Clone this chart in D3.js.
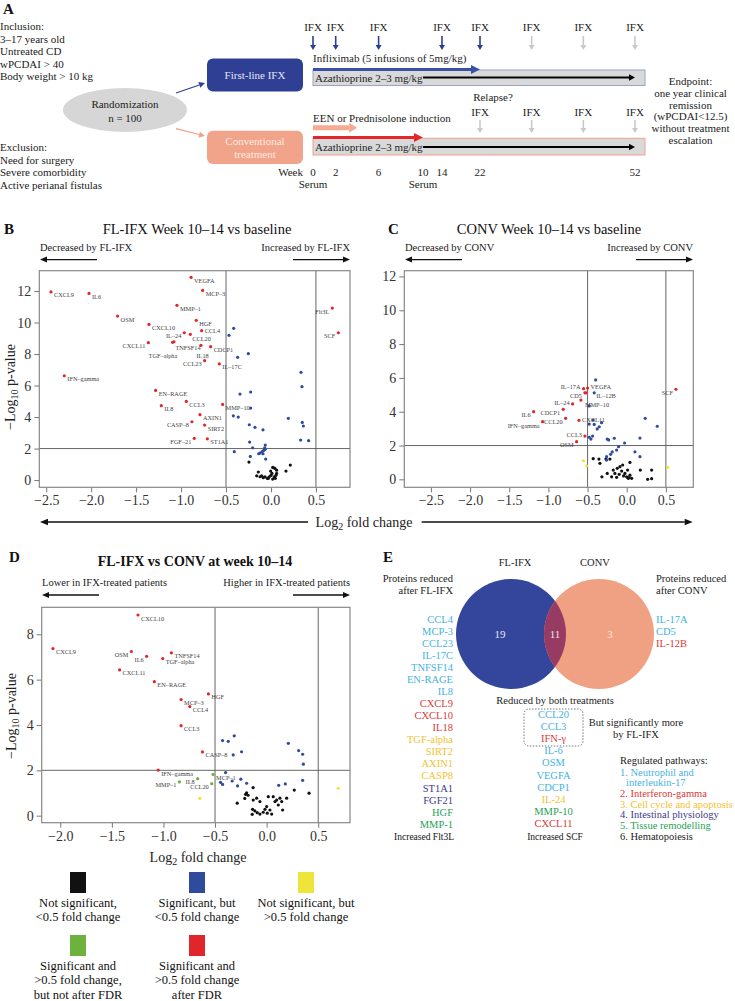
<!DOCTYPE html>
<html><head><meta charset="utf-8">
<script src="https://cdnjs.cloudflare.com/ajax/libs/d3/7.8.5/d3.min.js"></script>
<style>body{margin:0;background:#fff}svg{display:block}text{font-family:"Liberation Serif","DejaVu Serif",serif}</style>
</head><body><svg id="c" width="735" height="1001"></svg>
<script>
// ---------------- DATA ----------------
// Panel A (study design)
const weeks = [0, 2, 6, 10, 14, 22, 52];
const ifxWeeksFL = [0, 2, 6, 14, 22];
const ifxMaintFL = [32, 42, 52];
const ifxRelapseConv = [22, 32, 42, 52];
const serumWeeks = [0, 10];
const inclusion = ["Inclusion:", "3–17 years old", "Untreated CD", "wPCDAI > 40", "Body weight > 10 kg"];
const exclusion = ["Exclusion:", "Need for surgery", "Severe comorbidity", "Active perianal fistulas"];
const endpoint = ["Endpoint:", "one year clinical", "remission", "(wPCDAI<12.5)", "without treatment", "escalation"];

// Panel B: FL-IFX week 10-14 vs baseline  [name, log2FC, -log10 p]
const bRed = [
 ["VEGFA",-0.889,12.87],["MCP–3",-0.760,12.04],["CXCL9",-2.447,11.94],["IL6",-2.024,11.85],
 ["MMP–1",-1.046,11.09],["Flt3L",0.682,10.92],["OSM",-1.706,10.41],["HGF",-0.831,10.14],
 ["CXCL10",-1.357,9.88],["CCL4",-0.771,9.48],["IL–24",-0.964,9.35],["SCF",0.749,9.35],
 ["CCL20",-0.897,9.25],["CXCL11",-1.364,8.72],["TGF–alpha",-1.094,8.74],["TNFSF14",-1.079,8.78],
 ["IL18",-0.779,8.55],["CDCP1",-0.671,8.47],["CCL23",-0.738,7.58],["IL–17C",-0.575,7.37],
 ["IFN–gamma",-2.299,6.62],["EN–RAGE",-1.283,5.69],["CCL3",-0.942,4.99],["MMP–10",-0.538,4.80],
 ["IL8",-1.220,4.72],["AXIN1",-0.790,4.15],["CASP–8",-0.879,3.70],["SIRT2",-0.738,3.49],
 ["FGF–21",-0.853,2.65],["ST1A1",-0.708,2.62]
];
const bBlue = [[-0.415,9.63],[-0.467,9.19],[-0.252,8.02],[-0.371,7.79],[0.334,6.84],[0.345,5.93],
 [-0.226,5.59],[-0.345,5.46],[-0.226,4.57],[-0.419,4.08],[-0.364,4.00],[0.193,3.92],[0.348,3.66],
 [0.360,3.43],[-0.241,3.51],[-0.178,3.35],[-0.089,3.19],[0.330,2.54],[0.419,2.50],[-0.237,2.41],
 [-0.204,2.05],[-0.408,1.80],[-0.230,1.50],[-0.059,1.33],[-0.063,2.22],[-0.070,2.05],[-0.081,1.88],
 [-0.100,1.80],[-0.122,1.71],[-0.137,1.67],[-0.089,1.67],[-0.065,1.95]];
const bBlack = [[-0.245,1.14],[-0.141,0.51],[-0.159,0.27],[-0.104,0.27],[-0.067,0.21],[-0.041,0.11],
 [-0.004,0.57],[0.019,0.80],[0.044,0.74],[0.063,0.63],[0.063,0.42],[0.037,0.21],[0.019,0.06],
 [-0.019,0.21],[0.167,0.57],[0.215,0.95],[-0.086,0.15],[-0.122,0.21],[0.048,0.11],[0.011,0.42],
 [0.030,0.78],[0.000,0.30],[-0.030,0.10],[0.055,0.30]];

// Panel C: CONV week 10-14 vs baseline
const cRed = [
 ["IL–17A",-0.551,5.36],["VEGFA",-0.500,5.40],["CD5",-0.534,5.12],["IL–12B",-0.517,5.12],
 ["MMP–10",-0.585,4.69],["IL–24",-0.691,4.46],["CDCP1",-0.811,4.14],["IL6",-1.189,4.00],
 ["CCL20",-0.780,3.61],["CXCL11",-0.610,3.49],["IFN–gamma",-1.074,3.41],["CCL3",-0.534,2.56],
 ["OSM",-0.640,2.23],["SCF",0.628,5.33]
];
const cBlue = [[-0.397,5.88],[-0.415,5.12],[-0.479,4.34],[-0.428,3.51],[-0.479,3.27],[-0.415,3.25],
 [-0.321,3.35],[-0.351,3.11],[-0.377,2.98],[0.236,3.61],[0.390,3.14],[-0.479,2.49],[-0.436,2.56],
 [-0.457,2.38],[-0.249,2.38],[-0.231,2.33],[-0.159,2.43],[-0.027,2.15],[0.169,2.44],[-0.104,1.93],
 [-0.129,1.73],[-0.185,1.62],[-0.206,1.48],[-0.257,1.34],[0.105,1.63],[0.169,1.34],[-0.257,1.14]];
const cYellow = [[-0.555,1.10],[-0.512,0.80],[0.522,0.71]];
const cBlack = [[-0.428,1.22],[-0.355,1.20],[-0.342,0.95],[-0.266,1.20],[-0.215,1.20],[-0.317,0.15],
 [0.041,1.00],[0.173,0.55],[0.318,0.55],[0.318,0.04],[0.267,0.00],[-0.172,0.55],[-0.151,0.35],
 [-0.193,0.15],[-0.121,0.65],[-0.087,0.75],[-0.052,0.85],[-0.065,0.49],[-0.096,0.30],[-0.129,0.12],
 [-0.023,0.35],[-0.001,0.15],[0.019,0.06],[0.041,0.25],[0.063,0.06],[0.011,0.55],[-0.249,0.35],
 [0.030,0.10],[-0.040,0.20]];

// Panel D: FL-IFX vs CONV at week 10-14
const dRed = [
 ["CXCL10",-1.247,8.85],["CXCL9",-2.071,7.37],["OSM",-1.311,7.24],["IL6",-1.163,7.03],
 ["TNFSF14",-0.923,7.18],["TGF–alpha",-1.007,6.93],["CXCL11",-1.425,6.43],["EN–RAGE",-1.088,5.91],
 ["HGF",-0.564,5.37],["MCP–3",-0.829,5.12],["CCL4",-0.745,4.81],["CCL3",-0.829,3.97],
 ["CASP–8",-0.622,2.81],["IFN–gamma",-1.051,2.01]
];
const dGreen = [["MCP–1",-0.519,1.82],["IL8",-0.668,1.63],["MMP–1",-0.845,1.49],["CCL20",-0.532,1.41]];
const dYellow = [[-0.648,0.76],[0.694,1.21]];
const dBlue = [[-0.427,3.31],[-0.372,3.28],[-0.314,3.52],[-0.324,2.68],[-0.243,2.82],[0.210,3.19],
 [0.310,2.87],[0.349,2.71],[0.356,2.27],[-0.398,1.90],[-0.447,1.47],[-0.427,1.38],[-0.334,1.53],
 [-0.250,1.61],[-0.282,1.31],[-0.194,1.43],[0.117,1.34],[0.181,1.40],[0.349,1.56]];
const dBlack = [[-0.194,1.01],[-0.204,0.94],[-0.180,0.90],[-0.285,0.55],[-0.130,0.69],[-0.097,0.77],
 [-0.065,0.62],[-0.136,0.28],[-0.114,0.21],[-0.140,0.06],[-0.091,0.13],[-0.065,0.07],[-0.033,0.15],
 [-0.016,0.28],[0.000,0.40],[0.006,0.11],[0.032,0.25],[0.049,0.07],[0.081,0.62],[0.097,0.69],
 [0.129,0.77],[0.146,0.62],[0.113,0.47],[0.155,0.25],[0.194,0.77],[0.268,1.13],[0.411,0.99],
 [0.016,0.84],[0.064,0.84],[-0.131,1.24],[-0.212,0.76]];

// Legend
const legendColors = ["#111111","#2f4b9c","#efe53a","#6cb23d","#e0262b"];
const legendLabels = [["Not significant,","<0.5 fold change"],["Significant, but","<0.5 fold change"],
 ["Not significant, but",">0.5 fold change"],["Significant and",">0.5 fold change,","but not after FDR"],
 ["Significant and",">0.5 fold change","after FDR"]];

// Panel E (pathway codes 1..6)
const vennCounts = [19, 11, 3];
const eIfxOnly = [["CCL4",1],["MCP-3",1],["CCL23",1],["IL-17C",1],["TNFSF14",1],["EN-RAGE",1],["IL8",1],
 ["CXCL9",2],["CXCL10",2],["IL18",2],["TGF-alpha",3],["SIRT2",3],["AXIN1",3],["CASP8",3],
 ["ST1A1",4],["FGF21",4],["HGF",5],["MMP-1",5]];
const eBoth = [["CCL20",1],["CCL3",1],["IFN-γ",2],["IL-6",1],["OSM",1],["VEGFA",1],["CDCP1",1],
 ["IL-24",3],["MMP-10",5],["CXCL11",2]];
const eConvOnly = [["IL-17A",1],["CD5",1],["IL-12B",2]];
const pathways = [["1. Neutrophil and",1,0],["interleukin-17",1,1],["2. Interferon-gamma",2,0],
 ["3. Cell cycle and apoptosis",3,0],["4. Intestinal physiology",4,0],["5. Tissue remodelling",5,0],
 ["6. Hematopoiesis",6,0]];

// ---------------- STYLE / LAYOUT ----------------
const COL = {red:"#e0262b", blue:"#2f4b9c", black:"#111", yellow:"#efe53a", green:"#6cb23d"};
const pathCol = {1:"#45b3de",2:"#d83a35",3:"#f2c232",4:"#3f3a8c",5:"#1f9f58",6:"#222"};
// label placement: "l" = left of point; array = [dx, dy, anchor]
const labelPlace = {
 B:{"Flt3L":"l","IL–24":"l","SCF":"l","CXCL11":"l","CCL23":"l","CASP–8":"l","FGF–21":"l",
    "CCL4":[3,0,"start"],"CCL20":[2,4.5,"start"],"TGF–alpha":[-24,13.5,"start"],
    "TNFSF14":[1.5,5.5,"start"],"IL18":[-4.5,10.5,"start"]},
 C:{"IL–17A":[-3,-2,"end"],"CD5":[-3,3,"end"],"IL–24":[-3,-1,"end"],"CDCP1":"l","IL6":"l","IFN–gamma":[-3,4,"end"],
    "CCL20":"l","CCL3":[-3,-2,"end"],"OSM":"l","SCF":"l","VEGFA":[3,-2,"start"],"IL–12B":[10,3,"start"],
    "MMP–10":[4,4,"start"],"CXCL11":[3,-1,"start"]},
 D:{"OSM":"l","IL6":"l","IL8":"l","MMP–1":"l","CCL20":"l"}
};

const svg = d3.select("#c");
svg.append("rect").attr("width",735).attr("height",1001).attr("fill","#fff");

function txt(g, x, y, s, o = {}) {
  const t = g.append("text").attr("x", x).attr("y", y).text(s)
    .attr("font-size", o.size || 11).attr("fill", o.fill || "#222")
    .attr("text-anchor", o.anchor || "start").attr("dominant-baseline", o.base || "central");
  if (o.weight) t.attr("font-weight", o.weight);
  return t;
}
function arrow(g, x1, y1, x2, y2, color, w, head, hw) {
  const a = Math.atan2(y2 - y1, x2 - x1);
  const bx = x2 - head * Math.cos(a), by = y2 - head * Math.sin(a);
  g.append("line").attr("x1", x1).attr("y1", y1).attr("x2", bx).attr("y2", by)
    .attr("stroke", color).attr("stroke-width", w);
  const s = Math.sin(a), c = Math.cos(a);
  g.append("polygon").attr("points",
    `${x2},${y2} ${bx + hw * s},${by - hw * c} ${bx - hw * s},${by + hw * c}`).attr("fill", color);
}

// ---------------- PANEL A ----------------
const gA = svg.append("g");
txt(gA, 3, 9, "A", {size: 15, weight: "bold", fill: "#111"});
const wx = d3.scaleLinear().domain(weeks).range([313, 335.7, 378.6, 423, 442, 480, 635]);
inclusion.forEach((s, i) => txt(gA, 0, 26 + i * 12.5, s, {size: 11}));
exclusion.forEach((s, i) => txt(gA, 0, 147 + i * 12.5, s, {size: 11}));
gA.append("ellipse").attr("cx", 125).attr("cy", 110).attr("rx", 62).attr("ry", 22).attr("fill", "#d6d6d6");
txt(gA, 125, 104, "Randomization", {size: 11, anchor: "middle"});
txt(gA, 125, 117.5, "n = 100", {size: 11, anchor: "middle"});
arrow(gA, 176, 93, 205, 83, "#2e3f94", 1.2, 6, 3);
arrow(gA, 176, 128.7, 205, 136, "#f0a084", 1.2, 6, 3);
gA.append("rect").attr("x", 207).attr("y", 58.5).attr("width", 96).attr("height", 33).attr("rx", 6).attr("fill", "#2e3f94");
txt(gA, 255, 75, "First-line IFX", {size: 11, anchor: "middle", fill: "#e4e7f5"});
gA.append("rect").attr("x", 207).attr("y", 130.7).attr("width", 96).attr("height", 33.3).attr("rx", 6).attr("fill", "#f1a489");
txt(gA, 255, 141, "Conventional", {size: 11, anchor: "middle", fill: "#fde9e1"});
txt(gA, 255, 153.5, "treatment", {size: 11, anchor: "middle", fill: "#fde9e1"});
// IFX arrows FL
ifxWeeksFL.forEach(w => {
  txt(gA, wx(w), 26.7, "IFX", {size: 11, anchor: "middle"});
  arrow(gA, wx(w), 36, wx(w), 50, "#2d3f8f", 1.6, 5, 3);
});
ifxMaintFL.forEach(w => {
  txt(gA, wx(w), 26.7, "IFX", {size: 11, anchor: "middle"});
  arrow(gA, wx(w), 36, wx(w), 50, "#c9c9c9", 1.6, 5, 3);
});
txt(gA, wx(0), 58.3, "Infliximab (5 infusions of 5mg/kg)", {size: 11});
gA.append("rect").attr("x", wx(0)).attr("y", 70).attr("width", wx(52) + 10 - wx(0)).attr("height", 15.5)
  .attr("fill", "#d9d9d9").attr("stroke", "#9aa3c6").attr("stroke-width", 1);
arrow(gA, wx(0), 69.5, wx(22), 69.5, "#3a4fa6", 3.2, 9, 4.5);
txt(gA, wx(0) + 2, 77.5, "Azathioprine 2–3 mg/kg", {size: 11});
arrow(gA, wx(10), 77.5, wx(52), 77.5, "#000", 2.2, 6, 3.2);
// Conventional
txt(gA, 493, 96.7, "Relapse?", {size: 11, anchor: "middle"});
ifxRelapseConv.forEach(w => {
  txt(gA, wx(w), 111.7, "IFX", {size: 11, anchor: "middle"});
  arrow(gA, wx(w), 120, wx(w), 133, "#c9c9c9", 1.6, 5, 3);
});
txt(gA, wx(0), 117.7, "EEN or Prednisolone induction", {size: 11});
arrow(gA, wx(0), 127.7, wx(4), 127.7, "#f4ab91", 5, 8, 5);
gA.append("rect").attr("x", wx(0)).attr("y", 138.3).attr("width", wx(52) + 10 - wx(0)).attr("height", 16.7)
  .attr("fill", "#d9d9d9").attr("stroke", "#f0a090").attr("stroke-width", 1);
arrow(gA, wx(0), 137.5, wx(10), 137.5, "#e4262a", 3.2, 9, 4.5);
txt(gA, wx(0) + 2, 147, "Azathioprine 2–3 mg/kg", {size: 11});
arrow(gA, wx(10), 147, wx(52), 147, "#000", 2.2, 6, 3.2);
txt(gA, 303, 171.7, "Week", {size: 11, anchor: "end"});
weeks.forEach(w => txt(gA, wx(w), 171.7, String(w), {size: 11, anchor: "middle"}));
serumWeeks.forEach(w => txt(gA, wx(w), 183.5, "Serum", {size: 11, anchor: "middle"}));
endpoint.forEach((s, i) => txt(gA, 690.5, 80.7 + i * 11.9, s, {size: 11, anchor: "middle"}));

// ---------------- VOLCANO ----------------
function volcano(cfg) {
  const g = svg.append("g");
  const x = d3.scaleLinear().domain(cfg.xd).range([cfg.x0, cfg.x1]);
  const y = d3.scaleLinear().domain(cfg.yd).range([cfg.y1, cfg.y0]);
  const xa = g.append("g").attr("transform", `translate(0,${cfg.y1})`)
    .call(d3.axisBottom(x).tickValues(cfg.xt).tickFormat(d3.format(".1f")).tickSize(5).tickPadding(3));
  const ya = g.append("g").attr("transform", `translate(${cfg.x0},0)`)
    .call(d3.axisLeft(y).tickValues(cfg.yt).tickFormat(d3.format("d")).tickSize(5).tickPadding(3));
  [xa, ya].forEach(a => {
    a.select(".domain").remove();
    a.selectAll(".tick line").attr("stroke", "#777");
    a.selectAll(".tick text").attr("font-size", 14).attr("fill", "#333")
      .attr("font-family", '"Liberation Serif","DejaVu Serif",serif');
  });
  g.append("line").attr("x1", x(-0.5)).attr("x2", x(-0.5)).attr("y1", cfg.y0).attr("y2", cfg.y1).attr("stroke", "#555").attr("stroke-width", 0.9);
  g.append("line").attr("x1", x(0.5)).attr("x2", x(0.5)).attr("y1", cfg.y0).attr("y2", cfg.y1).attr("stroke", "#555").attr("stroke-width", 0.9);
  g.append("line").attr("x1", cfg.x0).attr("x2", cfg.x1).attr("y1", y(2)).attr("y2", y(2)).attr("stroke", "#555").attr("stroke-width", 0.9);
  g.append("rect").attr("x", cfg.x0).attr("y", cfg.y0).attr("width", cfg.x1 - cfg.x0).attr("height", cfg.y1 - cfg.y0)
    .attr("fill", "none").attr("stroke", "#888").attr("stroke-width", 1.2);
  const layers = [["black", cfg.black || []], ["yellow", cfg.yellow || []], ["blue", cfg.blue || []]];
  layers.forEach(([c, arr]) => {
    g.selectAll(null).data(arr).join("circle").attr("cx", d => x(d[0])).attr("cy", d => y(d[1]))
      .attr("r", 1.6).attr("fill", COL[c]);
  });
  const lab = [["green", cfg.green || []], ["red", cfg.red || []]];
  lab.forEach(([c, arr]) => {
    g.selectAll(null).data(arr).join("circle").attr("cx", d => x(d[1])).attr("cy", d => y(d[2]))
      .attr("r", 1.6).attr("fill", COL[c]);
    arr.forEach(d => {
      let p = cfg.place[d[0]] || "r";
      if (p === "r") p = [3, 3, "start"];
      if (p === "l") p = [-3, 3, "end"];
      txt(g, x(d[1]) + p[0], y(d[2]) + p[1], d[0], {size: 6.3, anchor: p[2], fill: "#444"});
    });
  });
  return {x, y, g};
}

function dirLabels(x0, x1, y, s1, s2) {
  txt(svg, x0, y, s1, {size: 10.5});
  txt(svg, x1, y, s2, {size: 10.5, anchor: "end"});
  arrow(svg, x0 + 57, y + 12.3, x0, y + 12.3, "#111", 1.3, 7, 3);
  arrow(svg, x1 - 57, y + 12.3, x1, y + 12.3, "#111", 1.3, 7, 3);
}
function yTitle(cx, cy) {
  const t = svg.append("text").attr("transform", `translate(${cx},${cy}) rotate(-90)`)
    .attr("text-anchor", "middle").attr("dominant-baseline", "central").attr("font-size", 14).attr("fill", "#222");
  t.append("tspan").text("−Log");
  t.append("tspan").text("10").attr("font-size", 10).attr("dy", 4);
  t.append("tspan").text(" p-value").attr("dy", -4);
}
function xTitle(cx, cy) {
  const t = svg.append("text").attr("x", cx).attr("y", cy)
    .attr("text-anchor", "middle").attr("dominant-baseline", "central").attr("font-size", 14).attr("fill", "#222");
  t.append("tspan").text("Log");
  t.append("tspan").text("2").attr("font-size", 10).attr("dy", 4);
  t.append("tspan").text(" fold change").attr("dy", -4);
}

// Panel B
txt(svg, 4, 229, "B", {size: 15, weight: "bold", fill: "#111"});
txt(svg, 197, 229, "FL-IFX Week 10–14 vs baseline", {size: 14.5, anchor: "middle", fill: "#111"});
dirLabels(40, 350, 247.3, "Decreased by FL-IFX", "Increased by FL-IFX");
volcano({x0: 39.3, x1: 350, y0: 270.7, y1: 487.3, xd: [-2.577, 0.879], yd: [-0.46, 13.29],
  xt: [-2.5, -2, -1.5, -1, -0.5, 0, 0.5], yt: [0, 2, 4, 6, 8, 10, 12],
  red: bRed, blue: bBlue, black: bBlack, place: labelPlace.B});
yTitle(10, 387);

// Panel C
txt(svg, 388, 229, "C", {size: 15, weight: "bold", fill: "#111"});
txt(svg, 549, 229, "CONV Week 10–14 vs baseline", {size: 14.5, anchor: "middle", fill: "#111"});
dirLabels(405, 693, 247.3, "Decreased by CONV", "Increased by CONV");
volcano({x0: 404.3, x1: 693.3, y0: 270.7, y1: 487.3, xd: [-2.84, 0.85], yd: [-0.47, 12.34],
  xt: [-2.5, -2, -1.5, -1, -0.5, 0, 0.5], yt: [0, 2, 4, 6, 8, 10, 12],
  red: cRed, blue: cBlue, yellow: cYellow, black: cBlack, place: labelPlace.C});
// shared x title with arrows
xTitle(364, 522);
arrow(svg, 308, 522, 40, 522, "#111", 1.3, 8, 3.2);
arrow(svg, 421.7, 522, 692.7, 522, "#111", 1.3, 8, 3.2);

// Panel D
txt(svg, 9, 556.7, "D", {size: 15, weight: "bold", fill: "#111"});
txt(svg, 195, 561.7, "FL-IFX vs CONV at week 10–14", {size: 14, anchor: "middle", weight: "bold", fill: "#111"});
dirLabels(42, 350, 582.7, "Lower in IFX-treated patients", "Higher in IFX-treated patients");
volcano({x0: 41.7, x1: 350, y0: 607.3, y1: 822.7, xd: [-2.18, 0.808], yd: [-0.31, 9.19],
  xt: [-2, -1.5, -1, -0.5, 0, 0.5], yt: [0, 2, 4, 6, 8],
  red: dRed, green: dGreen, blue: dBlue, yellow: dYellow, black: dBlack, place: labelPlace.D});
yTitle(11, 716);
xTitle(198, 857);

// Legend
const legX = [78, 197, 306];
legendColors.forEach((c, i) => {
  const col = i < 3 ? i : i - 3, row = i < 3 ? 0 : 1;
  const cx = legX[col], top = row === 0 ? 872 : 935;
  svg.append("rect").attr("x", cx - 8).attr("y", top).attr("width", 16).attr("height", 21).attr("fill", c);
  legendLabels[i].forEach((s, j) => txt(svg, cx, top + 31 + j * 14.3, s, {size: 12.5, anchor: "middle", fill: "#111"}));
});

// ---------------- PANEL E ----------------
const gE = svg.append("g");
txt(gE, 383, 556.7, "E", {size: 15, weight: "bold", fill: "#111"});
txt(gE, 515, 562, "FL-IFX", {size: 10.5, anchor: "middle"});
txt(gE, 595, 562, "CONV", {size: 10.5, anchor: "middle"});
const vc = [{cx: 511, cy: 634}, {cx: 599, cy: 634}], vr = 55;
gE.append("defs").append("clipPath").attr("id", "clipB").append("circle")
  .attr("cx", vc[0].cx).attr("cy", vc[0].cy).attr("r", vr);
gE.append("circle").attr("cx", vc[0].cx).attr("cy", vc[0].cy).attr("r", vr).attr("fill", "#33469b");
gE.append("circle").attr("cx", vc[1].cx).attr("cy", vc[1].cy).attr("r", vr).attr("fill", "#f0a183");
gE.append("circle").attr("cx", vc[1].cx).attr("cy", vc[1].cy).attr("r", vr).attr("fill", "#983b63").attr("clip-path", "url(#clipB)");
const vx = [(vc[0].cx - vr + vc[1].cx - vr) / 2, (vc[1].cx - vr + vc[0].cx + vr) / 2, (vc[0].cx + vr + vc[1].cx + vr) / 2];
vennCounts.forEach((n, i) => txt(gE, vx[i], 634, String(n), {size: 11, anchor: "middle", fill: i === 2 ? "#fbe3d8" : "#e6e6ef"}));
txt(gE, 453, 578.3, "Proteins reduced", {size: 10.5, anchor: "end"});
txt(gE, 453, 590.7, "after FL-IFX", {size: 10.5, anchor: "end"});
txt(gE, 656, 578.3, "Proteins reduced", {size: 10.5});
txt(gE, 656, 590.7, "after CONV", {size: 10.5});
eIfxOnly.forEach((d, i) => txt(gE, 453, 619.3 + i * 12.05, d[0], {size: 10.5, anchor: "end", fill: pathCol[d[1]]}));
txt(gE, 454, 836.7, "Increased Flt3L", {size: 9.5, anchor: "end", fill: "#111"});
eConvOnly.forEach((d, i) => txt(gE, 656, 619.3 + i * 12.05, d[0], {size: 10.5, fill: pathCol[d[1]]}));
txt(gE, 555, 700, "Reduced by both treatments", {size: 10.5, anchor: "middle"});
gE.append("rect").attr("x", 524).attr("y", 709).attr("width", 59).attr("height", 37).attr("rx", 5)
  .attr("fill", "none").attr("stroke", "#555").attr("stroke-width", 0.8).attr("stroke-dasharray", "1.5,1.5");
eBoth.forEach((d, i) => txt(gE, 553.5, 714 + i * 12.2, d[0], {size: 10.5, anchor: "middle", fill: pathCol[d[1]]}));
txt(gE, 555, 836.7, "Increased SCF", {size: 9.5, anchor: "middle", fill: "#111"});
txt(gE, 636, 722.7, "But significantly more", {size: 10.5, anchor: "middle"});
txt(gE, 636, 734.5, "by FL-IFX", {size: 10.5, anchor: "middle"});
txt(gE, 620, 760, "Regulated pathways:", {size: 10.5});
pathways.forEach((d, i) => txt(gE, 620 + (d[2] ? 6 : 0), 772 + i * 10.7, d[0], {size: 10.5, fill: pathCol[d[1]]}));
</script></body></html>
